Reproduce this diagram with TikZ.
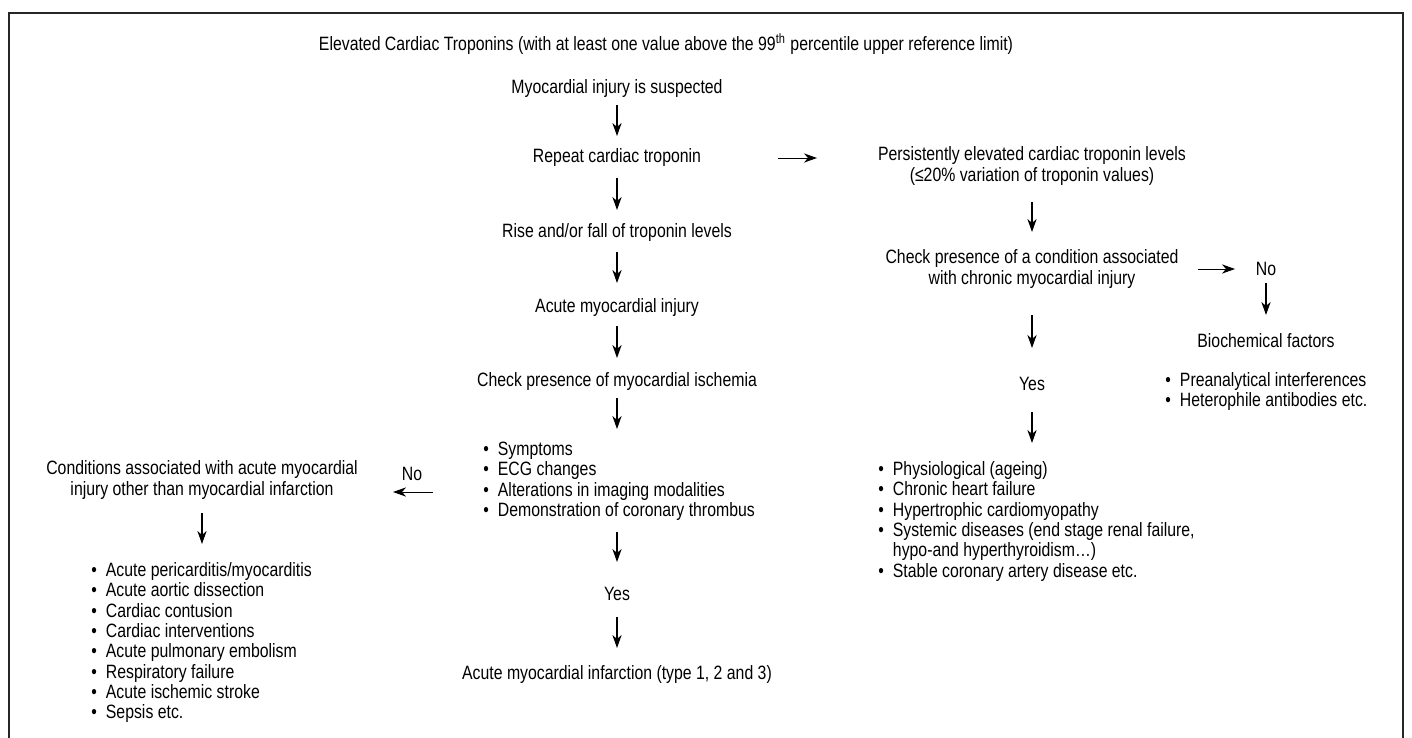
\documentclass[tikz,border=0pt]{standalone}
\usepackage{fontspec}
\setmainfont{Liberation Sans}[FakeStretch=0.82]
\usetikzlibrary{arrows.meta}
\tikzset{
  x=0.5pt, y=-0.5pt,
  txt/.style={inner sep=0pt, align=center, font=\fontsize{9.65}{10.15}\selectfont},
  lst/.style={inner sep=0pt, anchor=north west, font=\fontsize{9.65}{10.15}\selectfont},
  arr/.style={line width=0.6pt, -{Stealth[length=6.5pt,width=4.6pt,inset=2pt]}},
  harr/.style={arr, line width=0.5pt},
  framestyle/.style={line width=0.65pt, draw=black!85}
}
\newcommand\blst[1]{\begin{tabular}{@{}l@{\hspace{4.5pt}}l@{}}#1\end{tabular}}
\begin{document}
\begin{tikzpicture}
\useasboundingbox (0,0) rectangle (1412,738);
\draw[framestyle] (9,738) -- (9,13) -- (1403,13) -- (1403,738);

% title
\node[txt] (title) at (666,44) {Elevated Cardiac Troponins (with at least one value above the 99\textsuperscript{th} percentile upper reference limit)};

% centre column
\node[txt] (n1) at (617,89) {Myocardial injury is suspected};
\node[txt] (n2) at (617,158) {Repeat cardiac troponin};
\node[txt] (n3) at (617,233) {Rise and/or fall of troponin levels};
\node[txt] (n4) at (617,308) {Acute myocardial injury};
\node[txt] (n5) at (617,382) {Check presence of myocardial ischemia};
\node[lst] (isch) at (483,441) {\blst{• & Symptoms\\ • & ECG changes\\ • & Alterations in imaging modalities\\ • & Demonstration of coronary thrombus}};
\node[txt] (yesC) at (617,594) {Yes};
\node[txt] (ami) at (617,675) {Acute myocardial infarction (type 1, 2 and 3)};

\draw[arr] (n1 |- 0,105) -- (n1 |- 0,136);
\draw[arr] (n2 |- 0,178) -- (n2 |- 0,210);
\draw[arr] (n3 |- 0,252) -- (n3 |- 0,283);
\draw[arr] (n4 |- 0,326) -- (n4 |- 0,358);
\draw[arr] (n5 |- 0,398) -- (n5 |- 0,429);
\draw[arr] (yesC |- 0,532) -- (yesC |- 0,562);
\draw[arr] (yesC |- 0,617) -- (yesC |- 0,648);

% left branch
\node[txt] (noL) at (412,474) {No};
\node[txt] (cond) at (202,480) {Conditions associated with acute myocardial\\injury other than myocardial infarction};
\node[lst] (acute) at (91,562) {\blst{• & Acute pericarditis/myocarditis\\ • & Acute aortic dissection\\ • & Cardiac contusion\\ • & Cardiac interventions\\ • & Acute pulmonary embolism\\ • & Respiratory failure\\ • & Acute ischemic stroke\\ • & Sepsis etc.}};
\draw[harr] (noL.east |- 0,492) ++(10,0) -- (393,492);
\draw[arr] (cond |- 0,513) -- (cond |- 0,544);

% right branch
\node[txt] (pers) at (1032,166) {Persistently elevated cardiac troponin levels\\(≤20\% variation of troponin values)};
\node[txt] (chk) at (1032,269) {Check presence of a condition associated\\with chronic myocardial injury};
\node[txt] (noR) at (1266,269) {No};
\node[txt] (bio) at (1266,341) {Biochemical factors};
\node[lst] (biol) at (1165,372) {\blst{• & Preanalytical interferences\\ • & Heterophile antibodies etc.}};
\node[txt] (yesR) at (1032,384) {Yes};
\node[lst] (chron) at (878,461) {\blst{• & Physiological (ageing)\\ • & Chronic heart failure\\ • & Hypertrophic cardiomyopathy\\ • & Systemic diseases (end stage renal failure,\\ & hypo-and hyperthyroidism…)\\ • & Stable coronary artery disease etc.}};

\draw[harr] (n2 -| 778,0) -- (n2 -| 817,0);
\draw[arr] (pers |- 0,202) -- (pers |- 0,232);
\draw[harr] (chk -| 1198,0) -- (chk -| 1235,0);
\draw[arr] (noR |- 0,283) -- (noR |- 0,315);
\draw[arr] (chk |- 0,315) -- (chk |- 0,348);
\draw[arr] (yesR |- 0,412) -- (yesR |- 0,443);
\end{tikzpicture}
\end{document}
